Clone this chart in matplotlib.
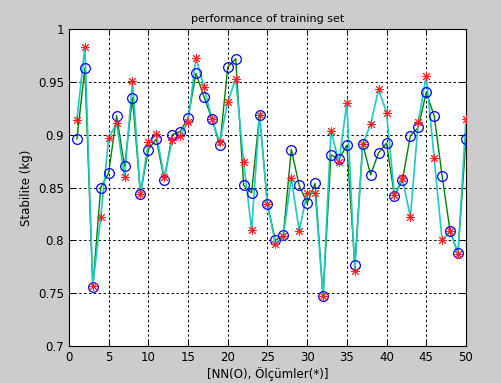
import numpy as np
import matplotlib
matplotlib.use("Agg")
import matplotlib.pyplot as plt

# sample index
idx = np.arange(1, 51)

# network output (circles)
nn_out = [0.896, 0.963, 0.756, 0.850, 0.864, 0.918, 0.870, 0.935, 0.844, 0.886,
          0.896, 0.857, 0.900, 0.903, 0.916, 0.958, 0.936, 0.915, 0.890, 0.964,
          0.972, 0.852, 0.845, 0.919, 0.834, 0.800, 0.805, 0.886, 0.852, 0.835,
          0.854, 0.747, 0.881, 0.877, 0.890, 0.777, 0.891, 0.862, 0.883, 0.892,
          0.842, 0.857, 0.899, 0.907, 0.940, 0.918, 0.861, 0.809, 0.788, 0.896]

# measured values (stars)
measured = [0.914, 0.983, 0.757, 0.822, 0.897, 0.911, 0.860, 0.951, 0.844, 0.893,
            0.901, 0.860, 0.895, 0.899, 0.912, 0.973, 0.945, 0.915, 0.893, 0.931,
            0.953, 0.874, 0.810, 0.919, 0.834, 0.797, 0.804, 0.859, 0.809, 0.845,
            0.845, 0.747, 0.904, 0.874, 0.930, 0.771, 0.891, 0.910, 0.943, 0.921,
            0.843, 0.859, 0.822, 0.912, 0.956, 0.878, 0.800, 0.809, 0.787, 0.915]

xticks = np.arange(0, 51, 5)
yticks = [0.7, 0.75, 0.8, 0.85, 0.9, 0.95, 1.0]
ylabels = ["0.7", "0.75", "0.8", "0.85", "0.9", "0.95", "1"]

fig = plt.figure(figsize=(5.01, 3.83), dpi=100, facecolor="#cccccc")
ax = fig.add_axes([0.1377, 0.0966, 0.7923, 0.8274])
ax.set_facecolor("white")

ax.plot(idx, nn_out, color="#008000", lw=1.0, zorder=3)
ax.plot(idx, measured, color="#20c8c8", lw=1.2, zorder=4)
ax.plot(idx, nn_out, "o", mfc="none", mec="blue", ms=7, mew=0.9, zorder=5)
# matlab style asterisk
ax.plot(idx, measured, linestyle="none", marker=(8, 2, 0), color="#ff2020", ms=6.5, mew=0.7, zorder=6)

ax.set_xlim(0, 50)
ax.set_ylim(0.7, 1.0)
ax.set_xticks(xticks)
ax.set_yticks(yticks)
ax.set_yticklabels(ylabels)
ax.grid(True, color="black", linestyle=(0, (2.5, 2.5)), lw=0.7)
ax.tick_params(direction="in", top=True, right=True, labelsize=8.5, length=4, width=0.7)
for s in ax.spines.values():
    s.set_linewidth(0.8)

ax.set_title("performance of training set", fontsize=8, pad=5)
ax.set_xlabel("[NN(O), Ölçümler(*)]", fontsize=8.5, labelpad=2)
ax.set_ylabel("Stabilite (kg)", fontsize=8.5, labelpad=4)

fig.savefig("out.png", dpi=100, facecolor=fig.get_facecolor())
